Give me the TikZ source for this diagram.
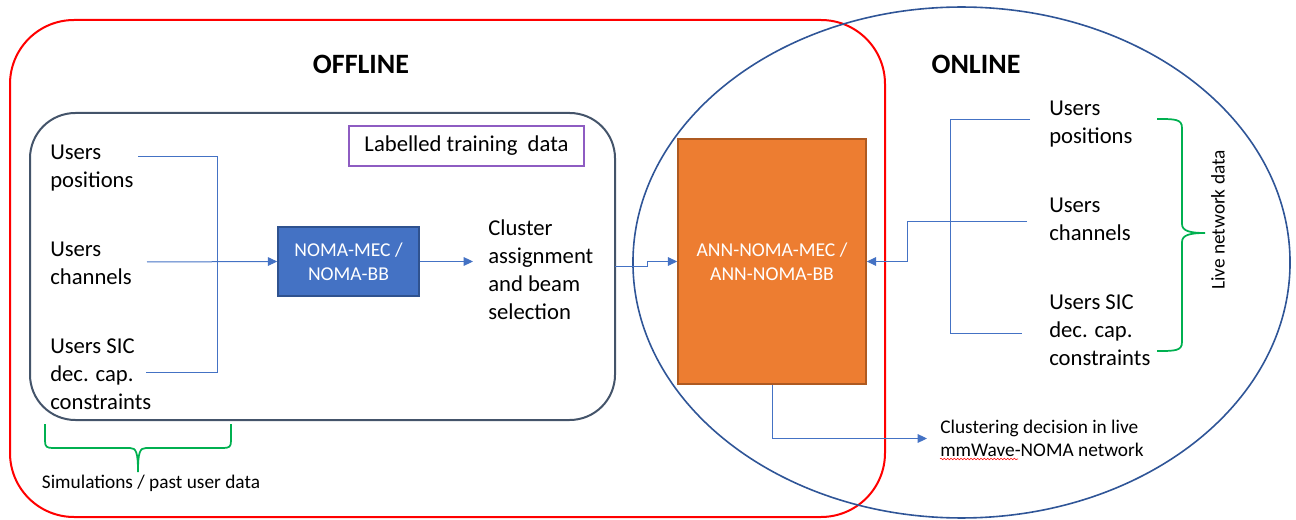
\documentclass[tikz,border=0pt]{standalone}
\usepackage{fontspec}
\setmainfont{Carlito}
\usetikzlibrary{arrows.meta,decorations.pathmorphing}
\definecolor{redline}{HTML}{FF0000}
\definecolor{ellblue}{HTML}{2F5597}
\definecolor{innergray}{HTML}{44546A}
\definecolor{connblue}{HTML}{4472C4}
\definecolor{bracegreen}{HTML}{00B050}
\definecolor{labpurple}{HTML}{8E5CC2}
\definecolor{nomafill}{HTML}{4472C4}
\definecolor{nomadraw}{HTML}{2F528F}
\definecolor{annfill}{HTML}{ED7D31}
\definecolor{anndraw}{HTML}{AE5A21}
\tikzset{
  bigtxt/.style={inner sep=0pt, align=left, font=\fontsize{17}{21}\selectfont},
  smalltxt/.style={inner sep=0pt, align=left, font=\fontsize{14.5}{17.3}\selectfont},
  title/.style={inner sep=0pt, font=\fontsize{21}{25}\selectfont\bfseries},
  conn/.style={draw=connblue, line width=0.75pt},
  arr/.style={-{Triangle[length=7pt,width=6.5pt]}},
  brace/.style={draw=bracegreen, line width=1.3pt},
  procbox/.style={align=center, text=white, font=\fontsize{14.7}{18}\selectfont, line width=1.2pt}
}
\begin{document}
\begin{tikzpicture}[x=0.75pt,y=-0.75pt]
\useasboundingbox (0,0) rectangle (1296,520);
% containers
\draw[redline, line width=1.5pt, rounded corners=48pt] (10,20) rectangle (885,517);
\draw[ellblue, line width=1.2pt] (961.5,262.5) ellipse [x radius=246.4pt, y radius=191.6pt];
\draw[innergray, line width=1.5pt, rounded corners=34pt] (30,113) rectangle (615,420);
% titles
\node[title] (offline) at (361,64) {OFFLINE};
\node[title] (online) at (976,64) {ONLINE};
% labelled box
\node[draw=labpurple, line width=0.9pt, minimum width=176.25pt, minimum height=30pt, inner sep=0pt, font=\fontsize{17}{21}\selectfont] (lab) at (466.5,146) {Labelled training\ \ data};
% left texts
\node[bigtxt, anchor=west] (lpos) at (50,168.5) {Users\\positions};
\node[bigtxt, anchor=west] (lchan) at (50,263.5) {Users\\channels};
\node[bigtxt, anchor=west] (lsic) at (50,374.5) {Users SIC\\dec. cap.\\constraints};
% left connectors
\coordinate (la) at (138,157);
\coordinate (lb) at (146,372);
\coordinate (lc) at (147,262);
\draw[conn] (la) -- (217,157) -- (217,372) -- (lb);
% NOMA box
\node[procbox, fill=nomafill, draw=nomadraw, minimum width=105.75pt, minimum height=51.75pt, inner sep=0pt] (noma) at (348.5,261.5) {NOMA-MEC /\\NOMA-BB};
\draw[conn, arr] (lc) -- (noma.west);
% cluster text
\node[bigtxt, anchor=west, inner xsep=11.25pt] (clus) at (473,270) {Cluster\\assignment\\and beam\\selection};
\draw[conn, arr] (noma.east) -- (noma.east -| clus.west);
% ANN box
\node[procbox, fill=annfill, draw=anndraw, minimum width=141pt, minimum height=183.75pt, inner sep=0pt] (ann) at (772,261.5) {ANN-NOMA-MEC /\\ANN-NOMA-BB};
\coordinate (cb) at (615,267);
\draw[conn, arr] (cb) -- (647,267) -- (647,261.5) -- (ann.west);
% right texts
\node[bigtxt, anchor=west] (rpos) at (1049,124.5) {Users\\positions};
\node[bigtxt, anchor=west] (rchan) at (1049,219) {Users\\channels};
\node[bigtxt, anchor=west] (rsic) at (1049,330) {Users SIC\\dec. cap.\\constraints};
\coordinate (ra) at (1030,120);
\coordinate (rb) at (1022,334);
\coordinate (rc) at (1027,222);
\draw[conn] (ra) -- (950,120) -- (950,334) -- (rb);
\draw[conn, arr] (rc) -- (907,222) -- (907,261.5) -- (ann.east);
% output
\node[smalltxt, anchor=west, inner xsep=9.75pt] (out) at (927,438.5) {Clustering decision in live\\mmWave-NOMA network};
\draw[conn, arr] (ann.south) |- (out.west);
\draw[redline, line width=0.4pt, decorate, decoration={snake, amplitude=0.6pt, segment length=2.5pt}] (940,459) -- (1018,459);
% braces
\draw[brace] (45,424) -- (45,441) .. controls (45,447) and (47,448) .. (53,448) -- (130,448) .. controls (136,448) and (138,452) .. (138,472) .. controls (138,452) and (140,448) .. (146,448) -- (223,448) .. controls (229,448) and (231,447) .. (231,441) -- (231,424);
\node[smalltxt] (sim) at (151,483) {Simulations / past user data};
\draw[brace] (1157,119) .. controls (1175,119) and (1182,119) .. (1182,128) -- (1182,224) .. controls (1182,231) and (1190,233) .. (1205,233) .. controls (1190,233) and (1182,235) .. (1182,242) -- (1182,342) .. controls (1182,351) and (1175,351) .. (1157,351);
\node[smalltxt, rotate=90] (live) at (1218,220) {Live network data};
\end{tikzpicture}
\end{document}
